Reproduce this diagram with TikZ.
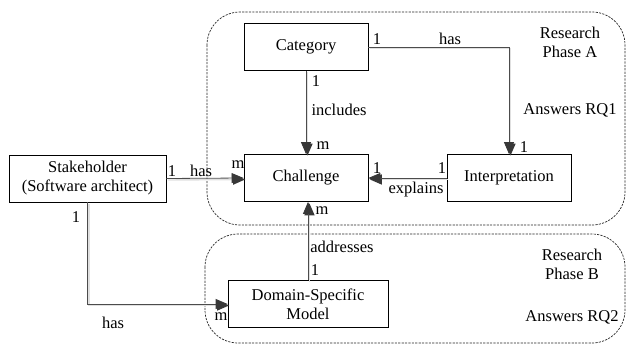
\documentclass[tikz,border=0pt]{standalone}
\usepackage{fontspec}
\setmainfont{Liberation Serif}
\usetikzlibrary{arrows.meta}

\tikzset{
  entity/.style={draw=black, fill=white, line width=0.8pt, minimum width=124pt, minimum height=47pt, align=center, inner sep=0pt},
  rel/.style={draw=black!70, line width=0.8pt, -{Triangle[length=12pt,width=10pt,color=black!78,fill=black!78]},
    preaction={draw=black!12, line width=1.4pt, transform canvas={shift={(1.5pt,-1.5pt)}}}},
  phase/.style={draw=black!85, dash pattern=on 2.2pt off 1.2pt, line width=0.7pt, rounded corners=33pt},
  card/.style={inner sep=0pt}
}

\begin{document}
\begin{tikzpicture}[x=1pt, y=-1pt, font=\fontsize{16.5}{19}\selectfont]
    \useasboundingbox (0,0) rectangle (626,345);
    % research phases, top one first
    \draw[phase] (207,12) rectangle (625,225);
    \draw[phase] (205,234) rectangle (625,343);
    \node[align=center] (phaseA) at (570,42) {Research\\Phase A};
    \node (rqA) at (570,110) {Answers RQ1};
    \node[align=center] (phaseB) at (572,264) {Research\\Phase B};
    \node (rqB) at (572,317) {Answers RQ2};

    % entities
    \node[entity] (cat) at (306,47) {Category};
    \node[entity] (chal) at (306,178) {Challenge};
    \node[entity] (interp) at (509,178) {Interpretation};
    \node[entity, minimum width=157pt] (stake) at (87.5,178.5) {Stakeholder\\(Software architect)};
    \node[entity, minimum width=160pt] (dsm) at (308,304) {Domain-Specific\\Model};

    % relations
    \draw[rel] (cat.south) -- (chal.north);
    \draw[rel] (cat.east) -| (interp.north);
    \draw[rel] (interp.west) -- (chal.east);
    \draw[rel] (stake.east) -- (chal.west);
    \draw[rel] (stake.south) |- (dsm.west);
    \draw[rel] (dsm.north) -- (dsm.north |- chal.south);

    % cardinalities and labels
    \node[card] (c1) at (316,81) {1};
    \node[card] (c2) at (339,110) {includes};
    \node[card] (c3) at (323,146) {m};
    \node[card] (c4) at (377,39) {1};
    \node[card] (c5) at (450,39) {has};
    \node[card] (c6) at (524,147) {1};
    \node[card] (c7) at (377,168) {1};
    \node[card] (c8) at (442,168) {1};
    \node[card] (c9) at (416,190) {explains};
    \node[card] (c10) at (172,171) {1};
    \node[card] (c11) at (201,171) {has};
    \node[card] (c12) at (238,165) {m};
    \node[card] (c13) at (76,217) {1};
    \node[card] (c14) at (113,323) {has};
    \node[card] (c15) at (221,317) {m};
    \node[card] (c16) at (322,211) {m};
    \node[card] (c17) at (342,247) {addresses};
    \node[card] (c18) at (315,270) {1};
\end{tikzpicture}
\end{document}
